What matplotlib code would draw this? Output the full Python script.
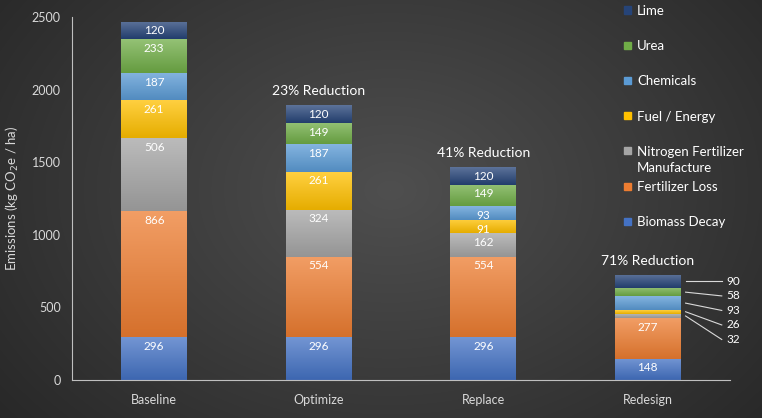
import numpy as np
import matplotlib.pyplot as plt
import matplotlib.colors as mcolors
from matplotlib.patches import Rectangle

plt.rcParams['font.family'] = ['Lato', 'DejaVu Sans']

scenarios = ['Baseline', 'Optimize', 'Replace', 'Redesign']
categories = ['Biomass Decay', 'Fertilizer Loss', 'Nitrogen Fertilizer\nManufacture',
              'Fuel / Energy', 'Chemicals', 'Urea', 'Lime']
biomass = [296, 296, 296, 148]
fert_loss = [866, 554, 554, 277]
nitrogen = [506, 324, 162, 32]
fuel = [261, 261, 91, 26]
chemicals = [187, 187, 93, 93]
urea = [233, 149, 149, 58]
lime = [120, 120, 120, 90]
reductions = ['', '23% Reduction', '41% Reduction', '71% Reduction']

series = [biomass, fert_loss, nitrogen, fuel, chemicals, urea, lime]
colors = ['#4472c4', '#ed7d31', '#a5a5a5', '#ffc000', '#5b9bd5', '#70ad47', '#264478']

fig = plt.figure(figsize=(7.62, 4.18), dpi=100)

# radial gradient background
bg = fig.add_axes([0, 0, 1, 1])
yy, xx = np.mgrid[0:418, 0:762]
r = np.sqrt(((xx - 390) / 520.0) ** 2 + ((yy - 190) / 380.0) ** 2)
r = np.clip(r, 0, 1)
c0 = np.array([0.31, 0.31, 0.31])
c1 = np.array([0.15, 0.15, 0.15])
img = c0[None, None, :] * (1 - r[..., None]) + c1[None, None, :] * r[..., None]
bg.imshow(img, aspect='auto', extent=[0, 1, 0, 1])
bg.axis('off')

ax = fig.add_axes([72 / 762, 38 / 418, 658 / 762, 363 / 418])
ax.patch.set_alpha(0)
x = np.arange(len(scenarios))
width = 0.4
lab_fs = 8.5

grad = np.linspace(0, 1, 64).reshape(-1, 1)
bottom = np.zeros(len(scenarios))
for vals, col, lab in zip(series, colors, categories):
    bars = ax.bar(x, vals, width, bottom=bottom, color=col, label=lab, zorder=2)
    base = np.array(mcolors.to_rgb(col))
    light = base + (1 - base) * 0.25
    dark = base * 0.9
    cmap = mcolors.LinearSegmentedColormap.from_list('g', [dark, light])
    for b in bars:
        bx, by = b.get_x(), b.get_y()
        im = ax.imshow(grad, cmap=cmap, aspect='auto', origin='lower',
                       extent=[bx, bx + b.get_width(), by, by + b.get_height()], zorder=2)
        im.set_clip_path(b)
    for i, (v, b0) in enumerate(zip(vals, bottom)):
        if i < 3:
            ax.text(x[i], b0 + v - 26, str(v), ha='center', va='top',
                    color='white', fontsize=lab_fs, zorder=4)
    bottom = bottom + np.array(vals)

# Redesign labels
ax.text(x[3], biomass[3] - 26, str(biomass[3]), ha='center', va='top', color='white',
        fontsize=lab_fs, zorder=4)
ax.text(x[3], biomass[3] + fert_loss[3] - 26, str(fert_loss[3]), ha='center', va='top',
        color='white', fontsize=lab_fs, zorder=4)
cum = np.cumsum([s[3] for s in series])
top = cum[-1]
for k, idx in enumerate([6, 5, 4, 3, 2]):
    mid = cum[idx] - series[idx][3] / 2
    ly = top - 45 - 100 * k
    ax.plot([x[3] + width / 2 + 0.03, x[3] + 0.45], [mid, ly], color='#d9d9d9', lw=0.8, zorder=3)
    ax.text(x[3] + 0.48, ly, str(series[idx][3]), ha='left', va='center', color='white',
            fontsize=lab_fs)

for i, t in enumerate(reductions):
    if t:
        ax.text(x[i], bottom[i] + 55, t, ha='center', va='bottom', color='white', fontsize=10)

ax.set_xlim(-0.5, 3.5)
ax.set_ylim(0, 2500)
ax.set_yticks(range(0, 2501, 500))
ax.set_xticks(x)
ax.set_xticklabels(scenarios)
ax.tick_params(length=0, colors='#d9d9d9', labelsize=9, pad=10)
ax.tick_params(axis='y', pad=8)
for s in ['top', 'right']:
    ax.spines[s].set_visible(False)
for s in ['left', 'bottom']:
    ax.spines[s].set_color('#bfbfbf')
    ax.spines[s].set_linewidth(0.8)
ax.set_ylabel('Emissions (kg CO$_2$e / ha)', color='#d9d9d9', fontsize=9.5, labelpad=8)

# legend drawn by hand so the two-line entry keeps the Excel spacing
for i, (lab, col) in enumerate(zip(categories[::-1], colors[::-1])):
    ypx = 10 + 35.2 * i
    fy = 1 - ypx / 418
    fig.patches.append(Rectangle((624 / 762, fy - 3.5 / 418), 7 / 762, 7 / 418,
                                 transform=fig.transFigure, color=col, zorder=5))
    fig.text(637 / 762, fy + 5 / 418, lab, ha='left', va='top', color='white',
             fontsize=9.5, linespacing=1.45, zorder=5)

fig.savefig('out.png', dpi=100)
